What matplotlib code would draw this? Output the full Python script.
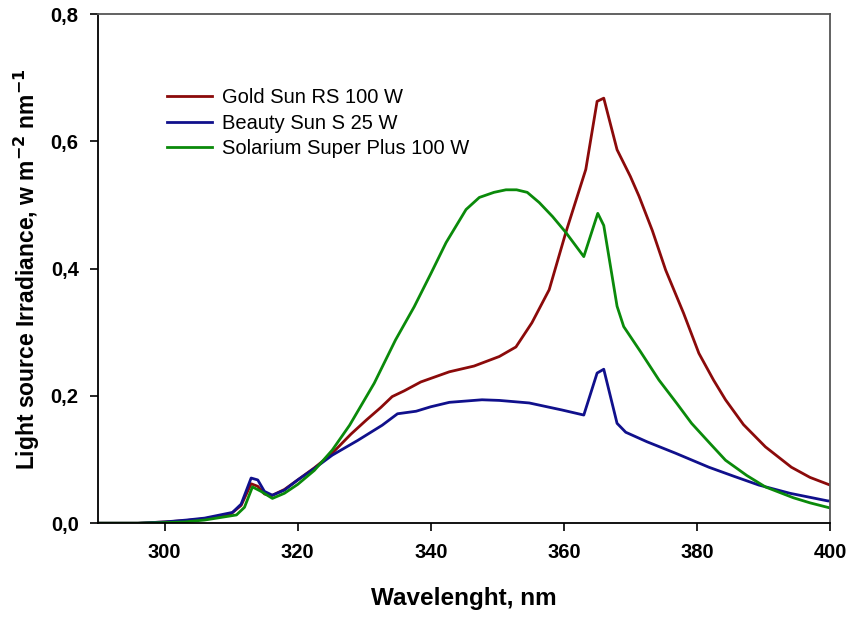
import matplotlib
matplotlib.use("Agg")
from matplotlib import pyplot as plt
from matplotlib.ticker import FuncFormatter

plt.rcParams['font.family'] = ['Liberation Sans', 'DejaVu Sans']

# Gold Sun RS 100 W
gold_nm = [290, 296, 300, 303, 306, 310, 311.5, 313, 314, 315, 316, 318, 320,
           322.5, 325, 328, 330.3, 332.5, 334.2, 336, 338.5, 342.8, 346.5,
           350.3, 352.8, 355.2, 357.8, 360.3, 363.3, 365, 366, 368, 370,
           371.3, 373.3, 375.3, 378, 380.3, 382.5, 384.3, 387, 390.3, 394.2,
           397, 400]
gold_val = [0.0, 0.0, 0.002, 0.004, 0.007, 0.015, 0.028, 0.062, 0.058, 0.046,
            0.043, 0.053, 0.068, 0.087, 0.108, 0.14, 0.162, 0.182, 0.199,
            0.208, 0.222, 0.238, 0.247, 0.262, 0.277, 0.315, 0.367, 0.457,
            0.556, 0.663, 0.668, 0.587, 0.545, 0.514, 0.46, 0.398, 0.33,
            0.267, 0.225, 0.194, 0.155, 0.12, 0.088, 0.072, 0.06]

# Beauty Sun S 25 W
beauty_nm = [290, 296, 300, 303.3, 306, 310.2, 311.5, 313, 314, 315, 316.2,
             318, 320, 322.5, 325.2, 329, 332.7, 335, 337.8, 340, 342.8,
             347.7, 350.3, 354.8, 359.7, 363, 365, 366, 368, 369.3, 372.5,
             376.8, 381.8, 385.5, 389.3, 394, 399.7, 400]
beauty_val = [0.0, 0.0, 0.002, 0.005, 0.008, 0.017, 0.03, 0.071, 0.068, 0.05,
              0.044, 0.052, 0.068, 0.086, 0.107, 0.13, 0.154, 0.172, 0.176,
              0.183, 0.19, 0.194, 0.193, 0.189, 0.178, 0.17, 0.236, 0.242,
              0.157, 0.143, 0.128, 0.11, 0.088, 0.074, 0.06, 0.047, 0.035,
              0.035]

# Solarium Super Plus 100 W
solar_nm = [290, 296, 300, 303, 306, 310.8, 312, 313.2, 314.5, 316.2, 318,
            320, 322.5, 325.2, 327.8, 331.5, 334.7, 337.5, 340, 342.3, 345.3,
            347.3, 349.5, 351.3, 352.9, 354.5, 356.3, 358.3, 360.3, 363,
            365.1, 366, 368, 369, 371.5, 374.3, 377, 379.2, 382, 384.3,
            387.5, 390.3, 394.5, 397, 400]
solar_val = [0.0, 0.0, 0.001, 0.002, 0.005, 0.013, 0.025, 0.057, 0.05, 0.039,
             0.047, 0.061, 0.083, 0.115, 0.154, 0.22, 0.288, 0.34, 0.392,
             0.441, 0.493, 0.512, 0.52, 0.524, 0.524, 0.52, 0.504, 0.482,
             0.457, 0.419, 0.487, 0.468, 0.341, 0.309, 0.27, 0.225, 0.188,
             0.157, 0.125, 0.099, 0.075, 0.057, 0.04, 0.032, 0.024]

fig = plt.figure(figsize=(8.53, 6.17), dpi=100)
ax = fig.add_axes([0.115, 0.152, 0.858, 0.825])

ax.plot(gold_nm, gold_val, color='#8b0a0a', lw=2.0, label='Gold Sun RS 100 W')
ax.plot(beauty_nm, beauty_val, color='#10108c', lw=2.0, label='Beauty Sun S 25 W')
ax.plot(solar_nm, solar_val, color='#0a8a0a', lw=2.0, label='Solarium Super Plus 100 W')

ax.set_xlim(290, 400)
ax.set_ylim(0, 0.8)
ax.set_xticks([300, 320, 340, 360, 380, 400])
ax.set_yticks([0.0, 0.2, 0.4, 0.6, 0.8])
ax.yaxis.set_major_formatter(FuncFormatter(lambda v, p: ('%.1f' % v).replace('.', ',')))
ax.tick_params(direction='out', length=6, width=1.2, labelsize=14.5, pad=8)
for lbl in ax.get_xticklabels() + ax.get_yticklabels():
    lbl.set_fontweight('bold')

for side in ['left', 'bottom']:
    ax.spines[side].set_linewidth(1.3)
for side in ['top', 'right']:
    ax.spines[side].set_color('#555555')
    ax.spines[side].set_linewidth(1.3)

ax.set_xlabel('Wavelenght, nm', fontsize=17.5, fontweight='bold', labelpad=18)
ax.set_ylabel('Light source Irradiance, w m$^{\\mathbf{-2}}$ nm$^{\\mathbf{-1}}$',
              fontsize=16.5, fontweight='bold', labelpad=6)

ax.legend(loc='upper left', bbox_to_anchor=(0.07, 0.89), frameon=False,
          fontsize=14.5, handlelength=2.2, labelspacing=0.32, handletextpad=0.5)

fig.savefig('out.png', dpi=100)
